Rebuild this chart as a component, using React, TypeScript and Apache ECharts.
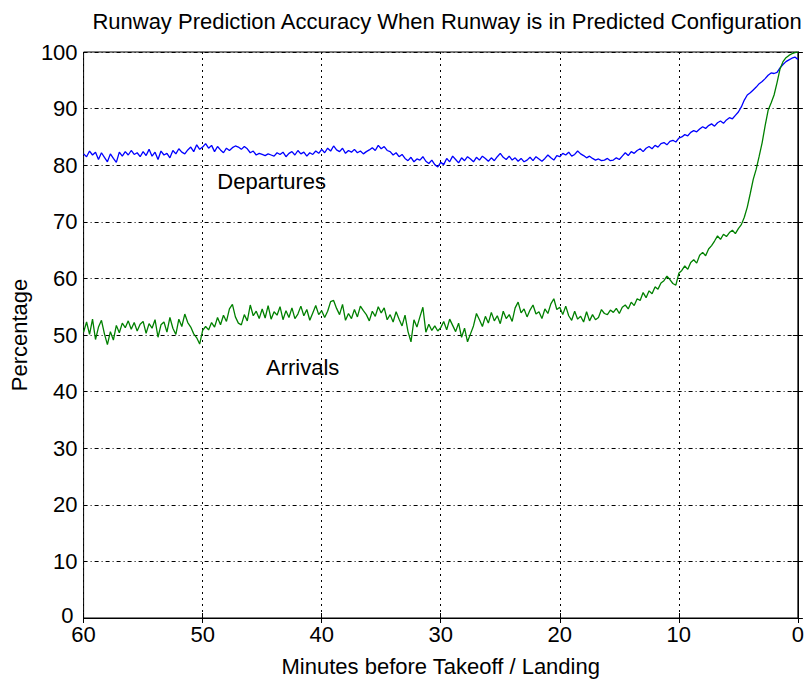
import React, { useEffect, useRef } from "react";
import * as echarts from "echarts";

const titleText = "Runway Prediction Accuracy When Runway is in Predicted Configuration";
const xAxisTitle = "Minutes before Takeoff / Landing";
const yAxisTitle = "Percentage";
const stepMinutes = 0.25;
const startMinute = 60;

// Departures accuracy (%), from 60 min down to 0 min, every 0.25 min
const departures = [
  82, 81.5, 82.5, 81.8, 82.3, 81, 82.2, 81.4, 80.6, 82, 81.2, 80.5, 82.3, 81.6, 82.4, 81.8, 82.6, 81.9, 82.2, 81.5,
  82.4, 81.7, 82.8, 81.6, 82.3, 81, 82.5, 81.8, 82.1, 81.3, 82.6, 82, 82.9, 82.3, 82, 82.7, 83.2, 82.4, 83.6, 82.8,
  83.2, 83.8, 83, 83.5, 82.4, 83.3, 82.7, 82.2, 83, 82.6, 83.1, 83.4, 83.2, 82.8, 83.3, 82.9, 82.2, 82.5, 81.8, 82.1,
  81.9, 81.7, 82, 81.8, 81.6, 82.2, 81.9, 82.3, 81.5, 82.1, 82.4, 81.8, 82.6, 82, 82.3, 81.6, 82.2, 81.9, 82.5, 82.1,
  82.8, 82.2, 83, 82.5, 83.4, 82.7, 82.4, 83, 82.1, 82.6, 82.3, 82.8, 82.2, 82.5, 82, 82.4, 82.7, 83.1, 82.6, 83.5,
  82.9, 83.3, 82.6, 82.4, 81.8, 82.2, 81.5, 81.9, 81.2, 80.8, 81.4, 80.6, 81.1, 80.9, 81.5, 80.7, 80.3, 80.9, 80.1, 79.7,
  80.5, 80.1, 81.2, 80.6, 81.6, 81, 80.4, 81.3, 80.8, 81.5, 81.1, 80.6, 81.4, 80.9, 81.6, 81.2, 80.7, 81.3, 80.8, 81.5,
  82.1, 81.4, 81, 81.6, 80.9, 81.3, 80.7, 81.2, 80.6, 80.9, 81.4, 80.8, 81.5, 81.1, 80.7, 81.2, 81.8, 81.3, 80.9, 81.7,
  81.5, 82.1, 81.8, 82.3, 81.6, 81.9, 82.5, 82, 81.7, 81.3, 81.6, 81.2, 80.9, 81.1, 80.8, 80.9, 81.2, 80.8, 80.9, 81.3,
  81, 81.6, 82.2, 81.7, 82.4, 82.1, 82.6, 82.9, 82.4, 83, 83.3, 82.9, 83.5, 83.2, 83.8, 84, 83.6, 84.2, 84.4, 84.1,
  84.8, 85, 85.4, 85.2, 85.8, 86.1, 85.9, 86.4, 86.8, 86.5, 87, 87.3, 86.9, 87.5, 87.8, 87.4, 88, 88.4, 88.2, 88.8,
  89.4, 90.3, 91.5, 92.4, 92.8, 93.3, 93.8, 94.4, 94.8, 95.3, 95.9, 96.3, 96.2, 96.4, 97.2, 97.8, 98.3, 98.6, 98.9, 99.1,
  98.7,
];

// Arrivals accuracy (%), from 60 min down to 0 min, every 0.25 min
const arrivals = [
  50.5, 52.3, 50.1, 52.8, 49.2, 51.4, 52.6, 50.2, 48.3, 50.6, 49.1, 51.7, 50.4, 52.1, 51.3, 52.5, 51, 52.2, 50.7, 51.9,
  52.4, 50.3, 52, 51.2, 52.7, 49.6, 51.8, 52.3, 50.5, 53.1, 51.2, 50.1, 52.8, 51.5, 53.7, 52.2, 51.4, 50.2, 49.5, 48.4,
  50.8, 51.5, 50.9, 52.2, 51.4, 53.1, 51.8, 53.5, 52.4, 54.6, 55.4, 53.2, 52.1, 51.8, 53.6, 52.5, 55.3, 53.4, 54.2, 52.9,
  54.6, 53, 55.2, 52.8, 54.1, 53.5, 55, 52.7, 54.3, 53.1, 54.8, 52.9, 53.7, 55.1, 53.4, 54.5, 52.6, 53.9, 55.2, 53.6,
  54.3, 53.1, 54.2, 55.9, 56.1, 54.7, 53.6, 55.4, 52.6, 53.8, 52.9, 54.5, 53.2, 55.1, 54.3, 53.6, 52.5, 54.2, 53.3, 55,
  53.9, 54.8, 52.7, 53.6, 52.3, 54.1, 52.8, 51.6, 53.5, 50.6, 48.8, 52.7, 51.4, 53.2, 54.9, 50.5, 51.9, 50.8, 51.6, 50.7,
  51.3, 52.4, 50.9, 52.8, 51.7, 50.6, 52.1, 49.6, 51.2, 48.8, 50.2, 51.6, 53.8, 52.7, 51.5, 53.3, 52.1, 54, 52.5, 53.4,
  52, 54.2, 52.9, 53.6, 52.4, 54.8, 55.8, 53.9, 54.6, 53.2, 54.4, 55.3, 53.7, 54.1, 52.9, 54.6, 53.8, 55.5, 56.4, 54.5,
  54.9, 53.6, 55.1, 53.4, 52.6, 54.2, 52.8, 53.3, 52.3, 54.1, 52.5, 53.6, 52.7, 53.1, 54.5, 53.8, 53.6, 54.4, 54, 54.7,
  53.8, 54.9, 55.3, 54.6, 55.8, 55.2, 56.4, 56.1, 57.5, 56.6, 57.8, 57.3, 58.5, 58.1, 59.2, 59.6, 60.4, 59.8, 59.1, 58.8,
  60.9, 61.4, 62.2, 61.6, 62.8, 63.3, 62.7, 64.1, 64.6, 64, 65.2, 65.8, 66.6, 67.5, 66.9, 67.8, 67.4, 68.1, 68.5, 67.9,
  68.8, 69.5, 70.8, 72.6, 75, 77.5, 79.3, 81.6, 84, 87, 89.7, 91, 92.4, 94.6, 97, 98.3, 99, 99.4, 99.7, 99.9,
  100,
];

const labelDeparturesAt = [44.2, 77.2];
const labelArrivalsAt = [41.6, 44.2];

const FONT = "'Liberation Sans', Arial, sans-serif";

function toPairs(values: number[]) {
  return values.map((v, i) => [startMinute - i * stepMinutes, v]);
}

export default function App() {
  const ref = useRef<HTMLDivElement>(null);
  useEffect(() => {
    if (!ref.current) return;
    const chart = echarts.init(ref.current, null, { renderer: "svg" });
    const gridColor = "#000";
    const baseAxis = {
      type: "value" as const,
      axisLine: { show: true, lineStyle: { color: "#000", width: 1 } },
      axisTick: { show: true, inside: true, length: 5, lineStyle: { color: "#000" } },
    };
    chart.setOption({
      animation: false,
      backgroundColor: "#fff",
      title: {
        text: titleText,
        left: 442,
        textAlign: "center",
        top: 5,
        textStyle: { fontFamily: FONT, fontSize: 22, fontWeight: "normal", color: "#000" },
      },
      grid: {
        left: 83,
        right: -2,
        top: 52,
        bottom: 65,
        show: true,
        borderColor: "#000",
        borderWidth: 1,
        backgroundColor: "#fff",
      },
      xAxis: [
        {
          ...baseAxis,
          min: 0,
          max: 60,
          interval: 10,
          inverse: true,
          position: "bottom",
          name: xAxisTitle,
          nameLocation: "middle",
          nameGap: 37,
          nameTextStyle: { fontFamily: FONT, fontSize: 22, color: "#000" },
          axisLabel: { fontFamily: FONT, fontSize: 22, color: "#000", margin: 5 },
          splitLine: { show: true, lineStyle: { color: gridColor, type: [2, 4], width: 1 } },
        },
        {
          ...baseAxis,
          min: 0,
          max: 60,
          interval: 10,
          inverse: true,
          position: "top",
          axisLabel: { show: false },
          splitLine: { show: false },
        },
      ],
      yAxis: [
        {
          ...baseAxis,
          min: 0,
          max: 100,
          interval: 10,
          position: "left",
          name: yAxisTitle,
          nameLocation: "middle",
          nameGap: 50,
          nameTextStyle: { fontFamily: FONT, fontSize: 22, color: "#000" },
          axisLabel: {
            fontFamily: FONT,
            fontSize: 22,
            color: "#000",
            margin: 6,
            formatter: (v: number) => (v === 0 ? "{z|0}" : String(v)),
            rich: { z: { fontFamily: FONT, fontSize: 22, color: "#000", padding: [0, 4, 6, 0] } },
          },
          splitLine: { show: true, lineStyle: { color: gridColor, type: [4, 3, 1, 3], width: 1 } },
        },
        {
          ...baseAxis,
          min: 0,
          max: 100,
          interval: 10,
          position: "right",
          axisLabel: { show: false },
          splitLine: { show: false },
        },
      ],
      series: [
        {
          name: "Departures",
          type: "line",
          data: toPairs(departures),
          showSymbol: false,
          symbol: "none",
          lineStyle: { color: "#0000ff", width: 1.3 },
          itemStyle: { color: "#0000ff" },
          z: 3,
        },
        {
          name: "Arrivals",
          type: "line",
          data: toPairs(arrivals),
          showSymbol: false,
          symbol: "none",
          lineStyle: { color: "#008000", width: 1.3 },
          itemStyle: { color: "#008000" },
          z: 3,
        },
      ],
    });
    const pD = chart.convertToPixel({ xAxisIndex: 0, yAxisIndex: 0 }, labelDeparturesAt) as number[];
    const pA = chart.convertToPixel({ xAxisIndex: 0, yAxisIndex: 0 }, labelArrivalsAt) as number[];
    chart.setOption({
      graphic: [
        {
          type: "text",
          x: pD[0],
          y: pD[1],
          style: {
            text: "Departures",
            fontFamily: FONT,
            fontSize: 22,
            fill: "#000",
            align: "center",
            verticalAlign: "middle",
          },
          z: 10,
        },
        {
          type: "text",
          x: pA[0],
          y: pA[1],
          style: {
            text: "Arrivals",
            fontFamily: FONT,
            fontSize: 22,
            fill: "#000",
            align: "center",
            verticalAlign: "middle",
          },
          z: 10,
        },
      ],
    });
    return () => chart.dispose();
  }, []);
  return <div ref={ref} style={{ width: 807, height: 683, position: "absolute", left: 0, top: 0 }} />;
}
